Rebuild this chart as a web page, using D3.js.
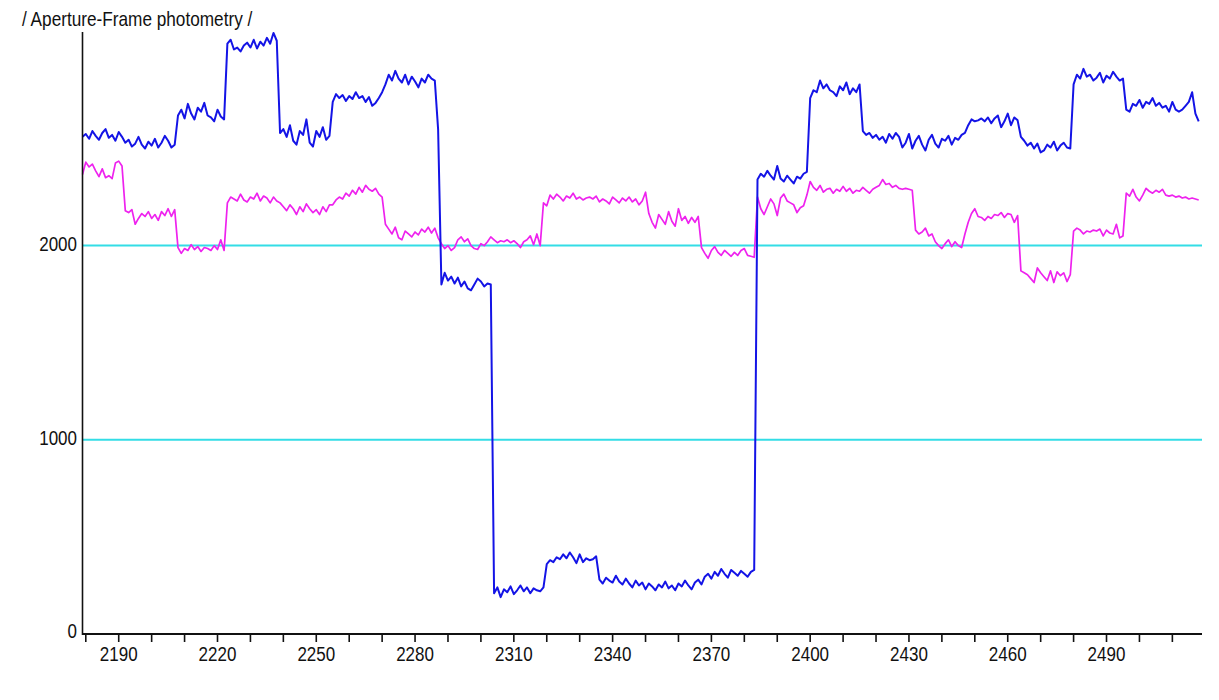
<!DOCTYPE html>
<html>
<head>
<meta charset="utf-8">
<script src="https://cdn.jsdelivr.net/npm/d3@7/dist/d3.min.js"></script>
<style>
  html, body { margin: 0; padding: 0; background: #ffffff; }
  svg { display: block; }
  text { font-family: "Liberation Sans", Arial, sans-serif; fill: #111; }
</style>
</head>
<body>
<svg id="chart" width="1219" height="700"></svg>
<script>
// ---- data ----
const titleText = "/ Aperture-Frame photometry /";
const firstFrame = 2179;               // frame number of the first sample
const xTickValues = [2180,2190,2200,2210,2220,2230,2240,2250,2260,2270,2280,2290,2300,2310,2320,2330,2340,2350,2360,2370,2380,2390,2400,2410,2420,2430,2440,2450,2460,2470,2480,2490,2500,2510];
const xTickLabels = [2190,2220,2250,2280,2310,2340,2370,2400,2430,2460,2490];
const yTickLabels = [0,1000,2000];
const gridValues = [1000,2000];

// blue series (one value per frame, 2179..2518)
const blueSeries = [
  2560,2575,2550,2590,2565,2545,2580,2600,2555,2570,2540,2585,2560,2530,2545,2510,2525,2560,2520,2500,2535,2515,2550,2505,2530,2565,2540,2505,2520,
  2670,2700,2655,2730,2680,2650,2710,2690,2735,2670,2660,2640,2700,2665,2650,
  3040,3060,3010,3020,3000,3030,3045,3020,3060,3015,3050,3030,3070,3040,3095,3055,
  2580,2600,2560,2620,2540,2520,2590,2570,2650,2530,2510,2590,2560,2610,2545,2565,
  2740,2780,2760,2775,2745,2770,2755,2790,2760,2770,2740,2765,2720,2735,2760,2790,
  2830,2880,2850,2900,2860,2840,2880,2830,2870,2845,2815,2860,2840,2880,2860,2850,2600,
  1800,1860,1820,1840,1805,1835,1790,1815,1780,1770,1800,1830,1815,1790,1805,1800,
  210,240,190,230,215,245,205,225,250,220,240,210,235,225,220,240,
  360,380,370,395,385,410,390,420,395,365,410,370,390,380,385,400,
  280,260,290,275,265,300,270,255,285,260,240,275,250,265,230,260,245,225,255,240,270,235,250,225,260,245,275,250,230,265,280,255,295,310,285,320,300,335,310,290,330,315,300,325,310,295,320,330,
  2340,2370,2355,2385,2360,2340,2410,2345,2330,2360,2340,2320,2355,2345,2370,2380,
  2760,2800,2790,2850,2810,2830,2800,2790,2770,2820,2800,2840,2780,2810,2790,2830,
  2590,2570,2580,2555,2570,2545,2560,2530,2575,2550,2580,2560,2505,2530,2575,2500,2540,2565,2520,2490,2545,2570,2525,2505,2550,2540,2565,2520,2555,2545,2570,2580,
  2620,2650,2640,2645,2655,2640,2660,2630,2655,2670,2610,2640,2680,2620,2660,2645,
  2560,2540,2515,2530,2500,2525,2480,2490,2520,2505,2535,2490,2515,2530,2505,2500,
  2830,2880,2860,2910,2870,2880,2850,2865,2890,2840,2875,2860,2895,2870,2850,2860,
  2700,2690,2730,2720,2750,2710,2740,2730,2760,2720,2735,2710,2720,2690,2740,2700,2690,2700,2720,2740,2790,2680,2640
];

// magenta series (one value per frame, 2179..2518)
const magentaSeries = [
  2366,2430,2405,2420,2385,2355,2395,2350,2360,2345,2425,2435,2410,
  2180,2170,2185,2110,2140,2165,2150,2175,2140,2160,2130,2175,2155,2190,2150,2185,
  1990,1960,1985,1975,2005,1980,1995,1970,1990,1985,1975,2000,1980,2030,1975,
  2220,2250,2240,2230,2265,2235,2225,2250,2240,2270,2230,2255,2245,2220,2250,2230,
  2220,2200,2180,2210,2190,2160,2200,2175,2215,2190,2170,2185,2160,2200,2175,2210,
  2210,2235,2250,2240,2270,2255,2285,2265,2300,2275,2310,2290,2280,2295,2265,2250,
  2110,2085,2060,2095,2040,2030,2075,2060,2045,2070,2055,2085,2070,2095,2065,2090,
  2040,2010,1985,2000,1975,1990,2030,2045,2020,2035,2000,1985,1980,2010,2000,2020,2045,2030,2015,2025,2020,2030,2015,2025,2010,1990,2020,2030,2050,2005,2060,2000,
  2220,2205,2260,2240,2265,2250,2230,2255,2245,2270,2240,2250,2235,2245,2250,2240,2255,2225,2240,2230,2215,2250,2235,2220,2245,2230,2250,2225,2240,2210,2230,2275,
  2165,2120,2090,2160,2135,2110,2175,2125,2100,2190,2130,2150,2115,2145,2120,2150,
  1990,1960,1935,1975,1995,1965,1950,1975,1960,1945,1965,1950,1975,1985,1950,1945,1940,
  2250,2190,2160,2200,2240,2215,2155,2245,2265,2230,2220,2210,2170,2195,2205,2260,
  2330,2300,2285,2310,2275,2290,2295,2270,2290,2280,2305,2280,2295,2270,2285,2280,2300,2285,2270,2290,2300,2310,2340,2315,2320,2300,2310,2295,2290,2295,2290,2285,
  2080,2060,2070,2090,2050,2060,2020,2000,1985,2010,2030,1995,2020,2000,1990,2060,
  2120,2165,2190,2150,2145,2130,2150,2140,2160,2155,2170,2145,2165,2160,2120,2155,
  1870,1860,1850,1830,1810,1885,1860,1840,1820,1870,1810,1865,1845,1860,1815,1850,
  2075,2090,2080,2060,2075,2070,2080,2075,2085,2050,2080,2065,2060,2110,2040,2050,
  2270,2255,2290,2250,2230,2260,2295,2280,2270,2285,2275,2290,2260,2255,2260,2250,2255,2245,2250,2240,2245,2240,2235
];

// ---- chart ----
(function () {
const svg = d3.select("#chart");
const pLeft = 82.5, pRight = 1202, pTop = 32, pBottom = 634;
const textScaleY = 1.14;

const x = d3.scaleLinear().domain([2179, 2519]).range([pLeft, pRight]);
const y = d3.scaleLinear().domain([0, 3100]).range([pBottom, pTop]);

// title
svg.append("text")
  .attr("transform", "translate(22,25.5) scale(1," + textScaleY + ")")
  .attr("font-size", "17.2px")
  .text(titleText);

// grid lines
svg.append("g").selectAll("line").data(gridValues).join("line")
  .attr("x1", pLeft).attr("x2", pRight)
  .attr("y1", d => y(d)).attr("y2", d => y(d))
  .attr("stroke", "#33dde6").attr("stroke-width", 2);

// data lines
const line = d3.line()
  .x((d, i) => x(firstFrame + i))
  .y(d => y(d));

svg.append("path").datum(magentaSeries)
  .attr("d", line).attr("fill", "none")
  .attr("stroke", "#ee22ee").attr("stroke-width", 1.7)
  .attr("stroke-linejoin", "round");

svg.append("path").datum(blueSeries)
  .attr("d", line).attr("fill", "none")
  .attr("stroke", "#1414e6").attr("stroke-width", 2)
  .attr("stroke-linejoin", "round");

// axes lines
svg.append("line").attr("x1", pLeft).attr("x2", pLeft).attr("y1", pTop).attr("y2", pBottom + 1)
  .attr("stroke", "#111").attr("stroke-width", 1.6);
svg.append("line").attr("x1", pLeft).attr("x2", pRight).attr("y1", pBottom).attr("y2", pBottom)
  .attr("stroke", "#111").attr("stroke-width", 2);

// x ticks
svg.append("g").selectAll("line").data(xTickValues).join("line")
  .attr("x1", d => x(d)).attr("x2", d => x(d))
  .attr("y1", pBottom).attr("y2", pBottom + 8)
  .attr("stroke", "#111").attr("stroke-width", 1.6);

svg.append("g").selectAll("text").data(xTickLabels).join("text")
  .attr("transform", d => "translate(" + x(d) + ",661) scale(1," + textScaleY + ")")
  .attr("text-anchor", "middle")
  .attr("font-size", "17px")
  .text(d => d);

// y labels
svg.append("g").selectAll("text").data(yTickLabels).join("text")
  .attr("transform", d => "translate(77," + (y(d) + (d === 0 ? 4 : 5)) + ") scale(1," + textScaleY + ")")
  .attr("text-anchor", "end")
  .attr("font-size", "17px")
  .text(d => d);
})();
</script>
</body>
</html>
